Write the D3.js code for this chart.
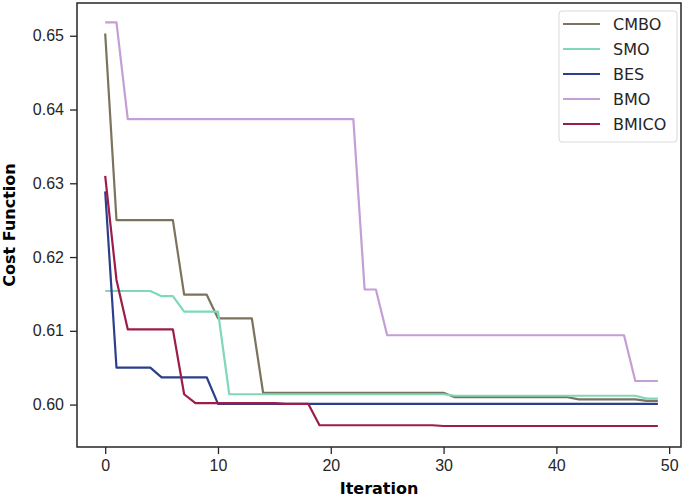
<!DOCTYPE html>
<html lang="en">
<head>
    <meta charset="UTF-8">
    <title>Cost Function vs Iteration</title>
    <script src="https://cdnjs.cloudflare.com/ajax/libs/d3/7.8.5/d3.min.js"></script>
    <style>
        body { margin: 0; padding: 0; background: #fff; }
        svg { display: block; font-family: "DejaVu Sans", sans-serif; }
        .tick text { font-size: 16px; fill: #262626; }
        .tick line, .domain { stroke: #262626; }
        .axis-label { font-size: 16px; font-weight: bold; fill: #000; }
        .legend text { font-size: 16px; fill: #262626; }
    </style>
</head>
<body>
    <div id="chart"></div>

    <script>
        // series values, one per iteration 0..49
        const iterations = d3.range(0, 50);

        const cmbo = [
            0.6503, 0.6250, 0.6250, 0.6250, 0.6250, 0.6250, 0.6250, 0.6149, 0.6149, 0.6149,
            0.6117, 0.6117, 0.6117, 0.6117, 0.6016, 0.6016, 0.6016, 0.6016, 0.6016, 0.6016,
            0.6016, 0.6016, 0.6016, 0.6016, 0.6016, 0.6016, 0.6016, 0.6016, 0.6016, 0.6016,
            0.6016, 0.6010, 0.6010, 0.6010, 0.6010, 0.6010, 0.6010, 0.6010, 0.6010, 0.6010,
            0.6010, 0.6010, 0.6007, 0.6007, 0.6007, 0.6007, 0.6007, 0.6007, 0.6005, 0.6005
        ];
        const smo = [
            0.6154, 0.6154, 0.6154, 0.6154, 0.6154, 0.6147, 0.6147, 0.6126, 0.6126, 0.6126,
            0.6126, 0.6014, 0.6014, 0.6014, 0.6014, 0.6014, 0.6014, 0.6014, 0.6014, 0.6014,
            0.6014, 0.6014, 0.6014, 0.6014, 0.6014, 0.6014, 0.6014, 0.6014, 0.6014, 0.6014,
            0.6014, 0.6012, 0.6012, 0.6012, 0.6012, 0.6012, 0.6012, 0.6012, 0.6012, 0.6012,
            0.6012, 0.6012, 0.6012, 0.6012, 0.6012, 0.6012, 0.6012, 0.6012, 0.6008, 0.6008
        ];
        const bes = [
            0.6289, 0.6050, 0.6050, 0.6050, 0.6050, 0.6037, 0.6037, 0.6037, 0.6037, 0.6037,
            0.6001, 0.6001, 0.6001, 0.6001, 0.6001, 0.6001, 0.6001, 0.6001, 0.6001, 0.6001,
            0.6001, 0.6001, 0.6001, 0.6001, 0.6001, 0.6001, 0.6001, 0.6001, 0.6001, 0.6001,
            0.6001, 0.6001, 0.6001, 0.6001, 0.6001, 0.6001, 0.6001, 0.6001, 0.6001, 0.6001,
            0.6001, 0.6001, 0.6001, 0.6001, 0.6001, 0.6001, 0.6001, 0.6001, 0.6001, 0.6001
        ];
        const bmo = [
            0.6518, 0.6518, 0.6387, 0.6387, 0.6387, 0.6387, 0.6387, 0.6387, 0.6387, 0.6387,
            0.6387, 0.6387, 0.6387, 0.6387, 0.6387, 0.6387, 0.6387, 0.6387, 0.6387, 0.6387,
            0.6387, 0.6387, 0.6387, 0.6156, 0.6156, 0.6094, 0.6094, 0.6094, 0.6094, 0.6094,
            0.6094, 0.6094, 0.6094, 0.6094, 0.6094, 0.6094, 0.6094, 0.6094, 0.6094, 0.6094,
            0.6094, 0.6094, 0.6094, 0.6094, 0.6094, 0.6094, 0.6094, 0.6032, 0.6032, 0.6032
        ];
        const bmico = [
            0.6310, 0.6169, 0.6102, 0.6102, 0.6102, 0.6102, 0.6102, 0.6014, 0.6002, 0.6002,
            0.6002, 0.6002, 0.6002, 0.6002, 0.6002, 0.6002, 0.6001, 0.6001, 0.6001, 0.5972,
            0.5972, 0.5972, 0.5972, 0.5972, 0.5972, 0.5972, 0.5972, 0.5972, 0.5972, 0.5972,
            0.5971, 0.5971, 0.5971, 0.5971, 0.5971, 0.5971, 0.5971, 0.5971, 0.5971, 0.5971,
            0.5971, 0.5971, 0.5971, 0.5971, 0.5971, 0.5971, 0.5971, 0.5971, 0.5971, 0.5971
        ];

        const seriesNames = ["CMBO", "SMO", "BES", "BMO", "BMICO"];
        const seriesValues = [cmbo, smo, bes, bmo, bmico];
        const seriesColors = ["#7b735e", "#7fd8b8", "#2b3f8d", "#c59ed6", "#9c1c4a"];

        const xTicks = [0, 10, 20, 30, 40, 50];
        const yTicks = [0.60, 0.61, 0.62, 0.63, 0.64, 0.65];

        const width = 690;
        const height = 497;
        const margin = { top: 3, right: 9, bottom: 50, left: 77 };

        const svg = d3.select("#chart")
            .append("svg")
            .attr("width", width)
            .attr("height", height);

        const x = d3.scaleLinear()
            .domain([-2.5, 51.05])
            .range([margin.left, width - margin.right]);

        const y = d3.scaleLinear()
            .domain([0.59425, 0.65444])
            .range([height - margin.bottom, margin.top]);

        const line = d3.line()
            .x((d, i) => x(iterations[i]))
            .y(d => y(d));

        // lines
        const plot = svg.append("g");
        seriesValues.forEach((vals, k) => {
            plot.append("path")
                .datum(vals)
                .attr("fill", "none")
                .attr("stroke", seriesColors[k])
                .attr("stroke-width", 2.2)
                .attr("stroke-linejoin", "round")
                .attr("d", line);
        });

        // axes
        svg.append("g")
            .attr("transform", `translate(0,${height - margin.bottom})`)
            .call(d3.axisBottom(x).tickValues(xTicks).tickFormat(d3.format("d"))
                .tickSize(7).tickPadding(6).tickSizeOuter(0))
            .call(g => g.select(".domain").remove());

        svg.append("g")
            .attr("transform", `translate(${margin.left},0)`)
            .call(d3.axisLeft(y).tickValues(yTicks).tickFormat(d3.format(".2f"))
                .tickSize(7).tickPadding(6).tickSizeOuter(0))
            .call(g => g.select(".domain").remove());

        svg.selectAll(".tick line").attr("stroke-width", 1.3);

        // frame
        svg.append("rect")
            .attr("x", margin.left)
            .attr("y", margin.top)
            .attr("width", width - margin.left - margin.right)
            .attr("height", height - margin.top - margin.bottom)
            .attr("fill", "none")
            .attr("stroke", "#262626")
            .attr("stroke-width", 1.5);

        // axis labels
        svg.append("text")
            .attr("class", "axis-label")
            .attr("x", (margin.left + width - margin.right) / 2)
            .attr("y", 494)
            .attr("text-anchor", "middle")
            .text("Iteration");

        svg.append("text")
            .attr("class", "axis-label")
            .attr("transform", `translate(15,${(margin.top + height - margin.bottom) / 2}) rotate(-90)`)
            .attr("text-anchor", "middle")
            .text("Cost Function");

        // legend
        const legend = svg.append("g").attr("class", "legend");
        legend.append("rect")
            .attr("x", 559)
            .attr("y", 11)
            .attr("width", 118)
            .attr("height", 131)
            .attr("rx", 3)
            .attr("fill", "#fff")
            .attr("fill-opacity", 0.8)
            .attr("stroke", "#d9d9d9");

        seriesNames.forEach((name, k) => {
            const cy = 24 + k * 25;
            legend.append("line")
                .attr("x1", 563).attr("x2", 600)
                .attr("y1", cy).attr("y2", cy)
                .attr("stroke", seriesColors[k])
                .attr("stroke-width", 2.2);
            legend.append("text")
                .attr("x", 613)
                .attr("y", cy)
                .attr("dy", "0.35em")
                .text(name);
        });
    </script>
</body>
</html>
